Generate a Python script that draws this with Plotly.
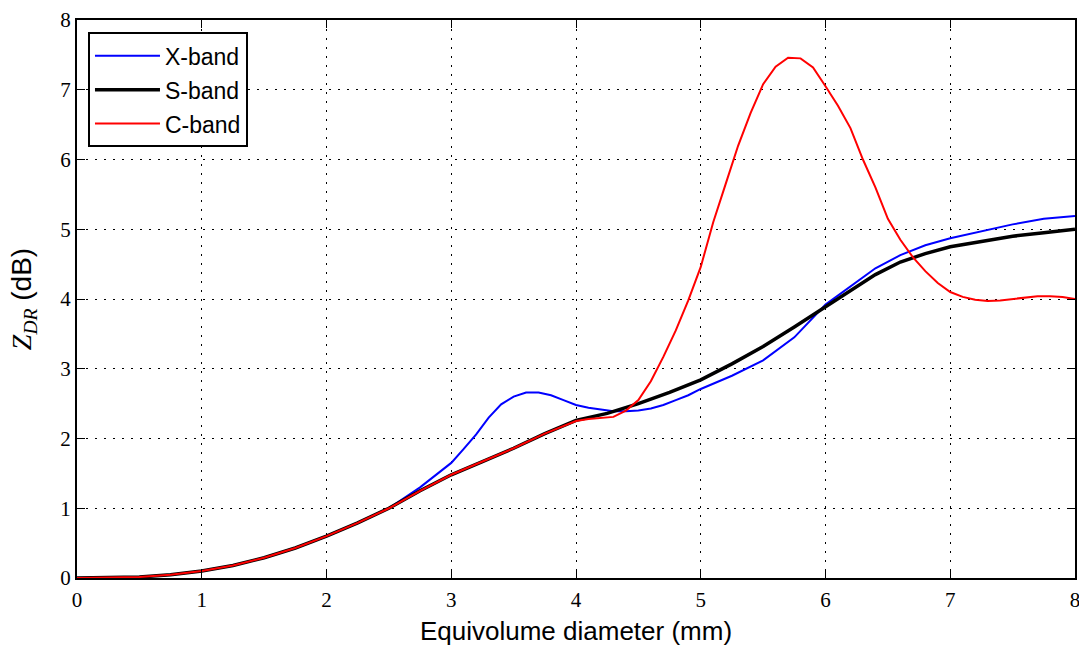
import plotly.graph_objects as go

# ---- data ----
s_x = [0, 0.25, 0.5, 0.75, 1, 1.25, 1.5, 1.75, 2, 2.25, 2.5, 2.75, 3, 3.25, 3.5, 3.75, 4, 4.25,
       4.5, 4.75, 5, 5.25, 5.5, 5.75, 6, 6.2, 6.4, 6.6, 6.8, 7, 7.25, 7.5, 7.75, 8]
s_y = [0, 0.003, 0.015, 0.045, 0.1, 0.18, 0.29, 0.43, 0.6, 0.79, 1.0, 1.25, 1.48, 1.67, 1.86, 2.07, 2.26, 2.36,
       2.5, 2.66, 2.84, 3.07, 3.32, 3.6, 3.89, 4.12, 4.35, 4.53, 4.65, 4.75, 4.83, 4.9, 4.95, 5.0]

x_x = [0, 0.25, 0.5, 0.75, 1, 1.25, 1.5, 1.75, 2, 2.25, 2.5, 2.75, 3, 3.1, 3.2, 3.3, 3.4, 3.5, 3.6, 3.7,
       3.8, 3.9, 4.0, 4.1, 4.2, 4.3, 4.4, 4.5, 4.6, 4.7, 4.8, 4.9, 5.0, 5.25, 5.5, 5.75, 6.0, 6.2, 6.4,
       6.6, 6.8, 7.0, 7.25, 7.5, 7.75, 8]
x_y = [0, 0.003, 0.015, 0.045, 0.1, 0.18, 0.29, 0.43, 0.6, 0.79, 1.0, 1.3, 1.65, 1.85, 2.06, 2.3, 2.49, 2.6, 2.66, 2.66,
       2.62, 2.55, 2.48, 2.44, 2.41, 2.39, 2.39, 2.4, 2.43, 2.48, 2.55, 2.62, 2.71, 2.9, 3.12, 3.45, 3.92, 4.18, 4.44,
       4.63, 4.77, 4.87, 4.97, 5.07, 5.15, 5.19]

c_x = [0, 0.25, 0.5, 0.75, 1, 1.25, 1.5, 1.75, 2, 2.25, 2.5, 2.75, 3, 3.25, 3.5, 3.75, 4.0, 4.1, 4.2, 4.3,
       4.4, 4.5, 4.6, 4.7, 4.8, 4.9, 5.0, 5.1, 5.2, 5.3, 5.4, 5.5, 5.6, 5.7, 5.8, 5.9, 6.0, 6.1, 6.2, 6.3,
       6.4, 6.5, 6.6, 6.7, 6.8, 6.9, 7.0, 7.1, 7.2, 7.3, 7.4, 7.5, 7.6, 7.7, 7.8, 7.9, 8.0]
c_y = [0, 0.003, 0.015, 0.045, 0.1, 0.18, 0.29, 0.43, 0.6, 0.79, 1.0, 1.25, 1.48, 1.67, 1.86, 2.07, 2.25, 2.28, 2.29, 2.31,
       2.4, 2.55, 2.82, 3.17, 3.55, 3.98, 4.46, 5.1, 5.65, 6.2, 6.67, 7.08, 7.33, 7.46, 7.45, 7.32, 7.05, 6.77, 6.45, 6.0,
       5.6, 5.15, 4.85, 4.6, 4.4, 4.23, 4.1, 4.03, 3.99, 3.97, 3.98, 4.0, 4.02, 4.04, 4.04, 4.03, 4.0]

tick_vals = [0, 1, 2, 3, 4, 5, 6, 7, 8]
tick_text = [str(v) for v in tick_vals]

fig = go.Figure()
fig.add_trace(go.Scatter(x=x_x, y=x_y, mode="lines", name="X-band",
                         line=dict(color="#0000ff", width=2), legendgroup="x"))
fig.add_trace(go.Scatter(x=s_x, y=s_y, mode="lines", name="S-band",
                         line=dict(color="#000000", width=3.5), legendgroup="s"))
fig.add_trace(go.Scatter(x=c_x, y=c_y, mode="lines", name="C-band",
                         line=dict(color="#ff0000", width=2), legendgroup="c"))

axis_common = dict(
    showline=True, linecolor="black", linewidth=2, mirror="allticks",
    ticks="inside", ticklen=8, tickwidth=1, tickcolor="black",
    showgrid=True, gridcolor="black", gridwidth=1, griddash="2px,7px",
    zeroline=False, tickvals=tick_vals, ticktext=tick_text, automargin=False,
    ticklabeloverflow="allow",
    tickfont=dict(family="Liberation Serif", size=21, color="black"),
)

fig.update_xaxes(range=[0, 8], **axis_common, ticklabelstandoff=2,
                 title=dict(text="Equivolume diameter (mm)",
                            font=dict(family="Liberation Sans", size=26, color="black"),
                            standoff=11))
fig.update_yaxes(range=[0, 8], **axis_common,
                 title=dict(text="<span style='font-family:Liberation Serif'><i>Z</i><sub><i>DR</i></sub></span> (dB)",
                            font=dict(family="Liberation Sans", size=28, color="black"),
                            standoff=20))

fig.update_layout(
    width=1079, height=646,
    margin=dict(l=77, r=4, t=20, b=68),
    paper_bgcolor="white", plot_bgcolor="white",
    showlegend=True,
    legend=dict(x=0.011, y=0.978, xanchor="left", yanchor="top",
                bgcolor="white", bordercolor="black", borderwidth=2,
                font=dict(family="Liberation Sans", size=23, color="black"),
                itemwidth=65,
                traceorder="grouped", tracegroupgap=1),
)

fig.write_html("out.html", config={"displayModeBar": False},
               post_script="document.body.style.margin='0px';document.body.style.overflow='hidden';")
